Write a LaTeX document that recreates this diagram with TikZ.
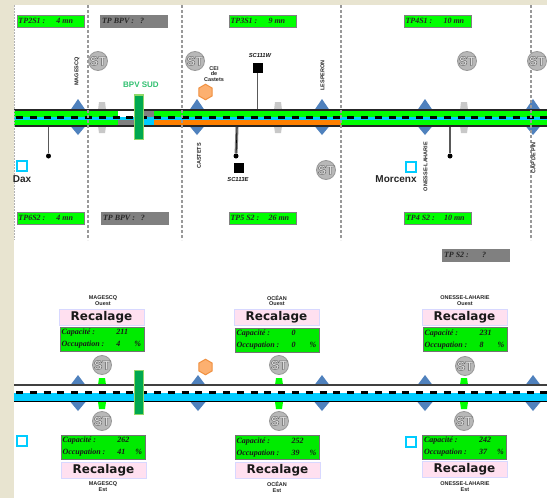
\documentclass[tikz,border=0pt]{standalone}
\usepackage{fontspec}
\setmainfont{Liberation Serif}
\setsansfont{Liberation Sans}
\newfontfamily\recfont{DejaVu Sans}
\usetikzlibrary{shapes.geometric}
\definecolor{pagebg}{HTML}{E8E4D0}
\definecolor{tgreen}{HTML}{00FF00}
\definecolor{tcyan}{HTML}{00CCFF}
\definecolor{torange}{HTML}{FF8000}
\definecolor{tgrey}{HTML}{808080}
\definecolor{dia}{HTML}{4F81BD}
\definecolor{sign}{HTML}{C8C8C8}
\definecolor{recpink}{HTML}{FFE0F0}
\definecolor{recedge}{HTML}{D8D8FF}
\definecolor{hexfill}{HTML}{FCB070}
\definecolor{hexedge}{HTML}{F09040}
\definecolor{bpvin}{HTML}{00A850}
\definecolor{bpvout}{HTML}{90D868}
\definecolor{bpvtxt}{HTML}{30C070}
\newcommand{\stxt}[1]{\special{pdf:code 2 Tr 0.35 w 0.35 G 0.86 g}#1\special{pdf:code 0 Tr 1 w 0 G 0 g}}
\tikzset{
  x=1pt,y=-1pt,
  tpbase/.style={draw=black!50,line width=.7pt,minimum width=67pt,minimum height=12pt,inner sep=0pt,
    font=\rmfamily\bfseries\itshape\fontsize{8}{8.5}\selectfont,text=black!85},
  tpgreen/.style={tpbase,fill=tgreen},
  tpgrey/.style={tpbase,fill=tgrey},
  stmark/.style={circle,draw=black!40,line width=.8pt,fill=black!28,minimum size=19pt,inner sep=0pt,
    font=\sffamily\bfseries\fontsize{13}{13}\selectfont},
  tinylab/.style={font=\sffamily\bfseries\fontsize{5.5}{5.8}\selectfont,inner sep=0pt,align=center,text=black!85},
  sclab/.style={font=\sffamily\bfseries\itshape\fontsize{5.8}{6}\selectfont,inner sep=0pt,text=black!90},
  vlab/.style={tinylab,rotate=90},
  town/.style={font=\sffamily\bfseries\fontsize{10}{10}\selectfont,inner sep=0pt,text=black!85},
  recbox/.style={draw=recedge,line width=1pt,fill=recpink,minimum width=85pt,minimum height=16pt,inner sep=0pt,
    font=\recfont\bfseries\fontsize{12}{12}\selectfont,text=black!90},
  capbox/.style={draw=black!55,line width=.7pt,fill=tgreen!92!black,minimum width=84pt,minimum height=24pt,inner sep=0pt,
    align=left,font=\rmfamily\bfseries\itshape\fontsize{8}{12}\selectfont,text=black!90},
  hexa/.style={regular polygon,regular polygon sides=6,shape border rotate=30,draw=hexedge,line width=1pt,
    fill=hexfill,minimum size=15.5pt,inner sep=0pt},
  cyansq/.style={draw=tcyan,line width=2pt,fill=white,minimum size=10pt,inner sep=0pt},
  blacksq/.style={fill=black,minimum size=10pt,inner sep=0pt},
  stopdot/.style={circle,fill=black,minimum size=5pt,inner sep=0pt},
  dashline/.style={draw=black!40,line width=1.7pt,dash pattern=on 2.5pt off 2.5pt},
  stem/.style={draw=black!65,line width=1.3pt},
  bpvbar/.style={fill=bpvin,draw=bpvout,line width=1.6pt}
}
\newcommand{\tptxt}[2]{\hspace*{1pt}\makebox[38pt][l]{#1}\makebox[27pt][l]{#2}}
\newcommand{\captxt}[2]{\hspace*{1pt}\makebox[55pt][l]{Capacité :}\makebox[27pt][l]{#1}\\
  \hspace*{1pt}\makebox[55pt][l]{Occupation :}\makebox[18pt][l]{#2}\makebox[9pt][l]{\%}}
\begin{document}
\begin{tikzpicture}
\useasboundingbox (0,0) rectangle (547,498);
\fill[pagebg] (0,0) rectangle (547,498);
\fill[white] (14,5) rectangle (547,498);

% signals behind the upper track
\foreach \s in {102,278,464}{
  \fill[sign] (\s-3,102) -- (\s+3,102) -- (\s+4,110) -- (\s+4,126) -- (\s+3,133) -- (\s-3,133) -- (\s-4,126) -- (\s-4,110) -- cycle;}
\foreach \s in {78,197,322,425,533}{
  \fill[dia] (\s,99) -- (\s+7.5,110) -- (\s-7.5,110) -- cycle;
  \fill[dia] (\s,135) -- (\s+7.5,126) -- (\s-7.5,126) -- cycle;}

% upper track
\fill[tgreen] (14,110) rectangle (547,126);
\fill[white] (118,111) rectangle (134,117);
\fill[tgrey] (144,111) rectangle (154,116.5);
\fill[tcyan] (14,116.5) rectangle (547,119.5);
\fill[tgrey] (118,119.5) rectangle (134,125);
\fill[tcyan] (134,117) rectangle (154,125);
\fill[torange] (154,119.5) rectangle (341,125);
\draw[black!85,line width=2pt] (14,110) -- (547,110) (14,126) -- (547,126);
\draw[black,line width=2.2pt,dash pattern=on 7pt off 6.8pt] (16,117.5) -- (547,117.5);

% vertical separators
\coordinate (va) at (88,5);   \coordinate (vab) at (88,240);
\coordinate (vb) at (182,5);  \coordinate (vbb) at (182,240);
\coordinate (vc) at (341,5);  \coordinate (vcb) at (341,240);
\coordinate (vd) at (531,5);  \coordinate (vdb) at (531,240);
\coordinate (ve) at (14.5,5); \coordinate (veb) at (14.5,240);
\draw[dashline] (va) -- (vab);
\draw[dashline] (vb) -- (vbb);
\draw[dashline] (vc) -- (vcb);
\draw[dashline] (vd) -- (vdb);
\draw[draw=black!30,line width=.5pt,dash pattern=on 1.5pt off 1.5pt] (ve) -- (veb);

% BPV bar upper
\filldraw[bpvbar] (134.5,95) rectangle (143.5,139.5);
\node[font=\sffamily\bfseries\fontsize{8}{8}\selectfont,text=bpvtxt,inner sep=0pt] (bpv) at (141,85) {BPV SUD};

% travel-time boxes
\node[tpgreen] (tpa) at (50.5,21) {\tptxt{TP2S1 :}{4 mn}};
\node[tpgrey]  (tpb) at (134,21) {\tptxt{TP BPV :}{?}};
\node[tpgreen] (tpc) at (262.5,21) {\tptxt{TP3S1 :}{9 mn}};
\node[tpgreen] (tpd) at (437.5,21) {\tptxt{TP4S1 :}{10 mn}};
\node[tpgreen] (tpe) at (50.5,218) {\tptxt{TP6S2 :}{4 mn}};
\node[tpgrey]  (tpf) at (135,218) {\tptxt{TP BPV :}{?}};
\node[tpgreen] (tpg) at (262.5,218) {\tptxt{TP5 S2 :}{26 mn}};
\node[tpgreen] (tph) at (438,218) {\tptxt{TP4 S2 :}{10 mn}};
\node[tpgrey]  (tpi) at (476,255) {\tptxt{TP S2 :}{?}};

% ST marks
\node[stmark] (sta) at (98,61) {\stxt{ST}};
\node[stmark] (stb) at (195,61) {\stxt{ST}};
\node[stmark] (stc) at (467,61) {\stxt{ST}};
\node[stmark] (std) at (537,61) {\stxt{ST}};
\node[stmark] (ste) at (326,170) {\stxt{ST}};
\node[stmark] (stf) at (102,365) {\stxt{ST}};
\node[stmark] (stg) at (279,365) {\stxt{ST}};
\node[stmark] (sth) at (465,366) {\stxt{ST}};
\node[stmark] (sti) at (102,421) {\stxt{ST}};
\node[stmark] (stj) at (279,421) {\stxt{ST}};
\node[stmark] (stk) at (464,421) {\stxt{ST}};

% stems and detectors
\coordinate (tra) at (48.5,127);
\node[stopdot] (dota) at (48.5,156) {};
\draw[stem] (tra) -- (dota);
\coordinate (trb) at (450,127);
\node[stopdot] (dotb) at (450,156) {};
\draw[stem] (trb) -- (dotb);
\coordinate (trc) at (257.5,109);
\node[blacksq] (scw) at (257.5,68) {};
\draw[stem] (scw) -- (trc);
\coordinate (trd) at (237,127);
\node[blacksq] (sce) at (238.5,168) {};
\node[stopdot] (dotc) at (236,156) {};
\draw[draw=black!50,line width=3pt] (trd) -- (dotc);
\draw[black,line width=.6pt] (trd) -- (dotc);
\node[sclab] (lbw) at (260,56) {SC111W};
\node[sclab] (lbe) at (238,180) {SC113E};

% place labels
\node[vlab] (la) at (77,71.5) {MAGESCQ};
\node[vlab] (lb) at (199,156) {CASTETS};
\node[vlab] (lc) at (322.5,75.5) {LESPERON};
\node[vlab] (ld) at (425.5,166.5) {ONESSE-LAHARIE};
\node[vlab] (le) at (533.5,158) {CAP DE PIN};
\node[tinylab] (cei) at (214,74) {CEI\\de\\Castets};
\node[hexa] (hxa) at (205.5,92) {};
\node[hexa] (hxb) at (205.5,367) {};
\node[cyansq] (cya) at (22,166) {};
\node[cyansq] (cyb) at (411,167) {};
\node[cyansq] (cyc) at (22,441) {};
\node[cyansq] (cyd) at (411,442) {};
\node[town] (dax) at (22,179) {Dax};
\node[town] (mor) at (396,179) {Morcenx};

% lower track
\foreach \s in {78,198,322,425,533}{
  \fill[dia] (\s,375) -- (\s+7.5,385) -- (\s-7.5,385) -- cycle;
  \fill[dia] (\s,411) -- (\s+7.5,402) -- (\s-7.5,402) -- cycle;}
\foreach \s in {102,279,464}{
  \fill[tgreen] (\s-3,378) -- (\s+3,378) -- (\s+4,385) -- (\s-4,385) -- cycle;
  \fill[tgreen] (\s-4,402) -- (\s+4,402) -- (\s+3,409) -- (\s-3,409) -- cycle;}
\fill[tcyan] (14,393) rectangle (547,401);
\draw[black!75,line width=1.5pt] (14,385) -- (547,385);
\draw[black,line width=1.3pt] (14,401.5) -- (547,401.5);
\draw[black,line width=2.2pt,dash pattern=on 7pt off 6.8pt] (16,392.5) -- (547,392.5);
\filldraw[bpvbar] (134.5,370.5) rectangle (143.5,414.5);

% lower panels
\node[tinylab] (oa) at (103,300.5) {MAGESCQ\\Ouest};
\node[tinylab] (ob) at (277,300.5) {OCÉAN\\Ouest};
\node[tinylab] (oc) at (465,300.5) {ONESSE-LAHARIE\\Ouest};
\node[recbox] (ra) at (101.5,317) {Recalage};
\node[recbox] (rb) at (276.5,317) {Recalage};
\node[recbox] (rc) at (464.5,317) {Recalage};
\node[capbox] (ca) at (102,339) {\captxt{211}{4}};
\node[capbox] (cb) at (277,340) {\captxt{0}{0}};
\node[capbox] (cc) at (465,339.5) {\captxt{231}{8}};
\node[capbox] (cd) at (103,447) {\captxt{262}{41}};
\node[capbox] (ce) at (277,447.5) {\captxt{252}{39}};
\node[capbox] (cf) at (464.5,447) {\captxt{242}{37}};
\node[recbox] (rd) at (103.5,470) {Recalage};
\node[recbox] (re) at (277.5,470) {Recalage};
\node[recbox] (rf) at (464.5,469.5) {Recalage};
\node[tinylab] (ea) at (103,487) {MAGESCQ\\Est};
\node[tinylab] (eb) at (277,487) {OCÉAN\\Est};
\node[tinylab] (ec) at (465,487) {ONESSE-LAHARIE\\Est};
\end{tikzpicture}
\end{document}
